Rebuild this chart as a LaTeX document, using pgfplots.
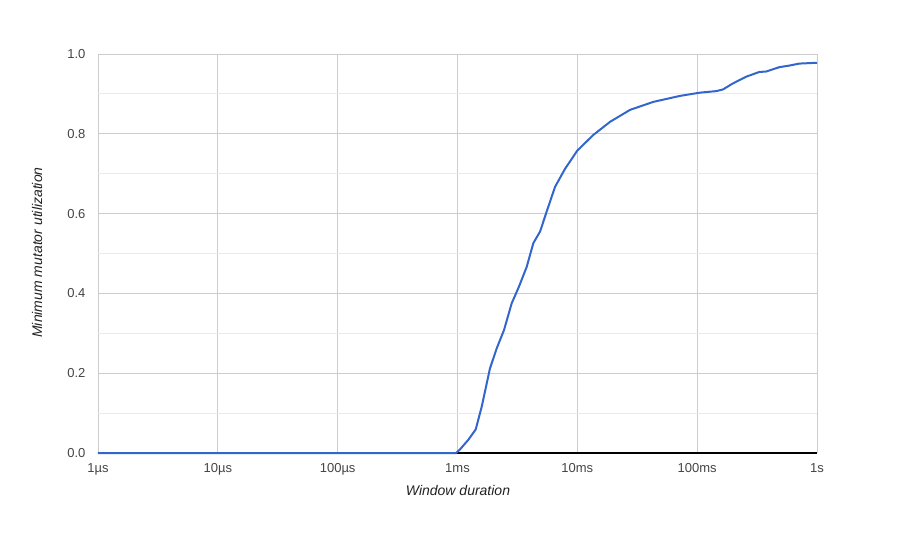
\documentclass[border=0pt]{standalone}
\usepackage{fontspec}
\setmainfont{Liberation Sans}
\usepackage{pgfplots}
\pgfplotsset{compat=1.18}
\definecolor{lineblue}{HTML}{3366CC}
\definecolor{majgrid}{HTML}{CCCCCC}
\definecolor{mingrid}{HTML}{EBEBEB}
\definecolor{ticktext}{HTML}{444444}
\definecolor{labeltext}{HTML}{222222}
\definecolor{baseline}{HTML}{333333}
\begin{document}
\begin{tikzpicture}
\path[use as bounding box] (-98pt,-102pt) rectangle (813pt,453pt);
\begin{axis}[
  scale only axis, width=719pt, height=399pt,
  at={(0pt,0pt)}, anchor=south west,
  xmin=-6, xmax=0, ymin=0, ymax=1,
  xtick={-6,-5,-4,-3,-2,-1,0},
  xticklabels={1µs,10µs,100µs,1ms,10ms,100ms,1s},
  ytick={0,0.2,0.4,0.6,0.8,1.0},
  minor ytick={0.1,0.3,0.5,0.7,0.9},
  /pgf/number format/assume math mode=true,
  /pgf/number format/fixed,
  /pgf/number format/fixed zerofill,
  /pgf/number format/precision=1,
  major tick length=0pt, minor tick length=0pt,
  axis line style={draw=none},
  grid=both,
  major grid style={majgrid, line width=0.8pt},
  minor grid style={mingrid, line width=0.8pt},
  tick label style={font=\fontsize{13}{15}\selectfont, text=ticktext},
  yticklabel style={xshift=-9pt},
  xticklabel style={yshift=-7pt},
  xlabel={Window duration},
  ylabel={Minimum mutator utilization},
  label style={font=\fontsize{14}{16}\selectfont\itshape, text=labeltext},
  xlabel style={at={(axis description cs:0.5007,0)}, anchor=center, yshift=-37pt},
  ylabel style={at={(axis description cs:0,0.5025)}, anchor=center, yshift=61pt},
  clip=false,
]
\draw[baseline, line width=1.2pt] (axis cs:-6,0) -- (axis cs:0,0);
\addplot[lineblue, line width=2pt, line join=round] coordinates {
(-6,0) (-3.012,0) (-2.979,0.009) (-2.910,0.033) (-2.848,0.059)
(-2.798,0.116) (-2.729,0.212) (-2.673,0.262) (-2.612,0.308)
(-2.548,0.375) (-2.487,0.417) (-2.422,0.467) (-2.367,0.526)
(-2.311,0.555) (-2.256,0.605) (-2.186,0.667) (-2.103,0.712)
(-2.000,0.758) (-1.867,0.797) (-1.727,0.830) (-1.560,0.860)
(-1.366,0.880) (-1.143,0.895) (-0.980,0.903) (-0.841,0.907)
(-0.786,0.911) (-0.703,0.926) (-0.592,0.943) (-0.481,0.955)
(-0.425,0.956) (-0.314,0.967) (-0.231,0.971) (-0.147,0.976)
(0,0.978)
};
\end{axis}
\end{tikzpicture}
\end{document}
